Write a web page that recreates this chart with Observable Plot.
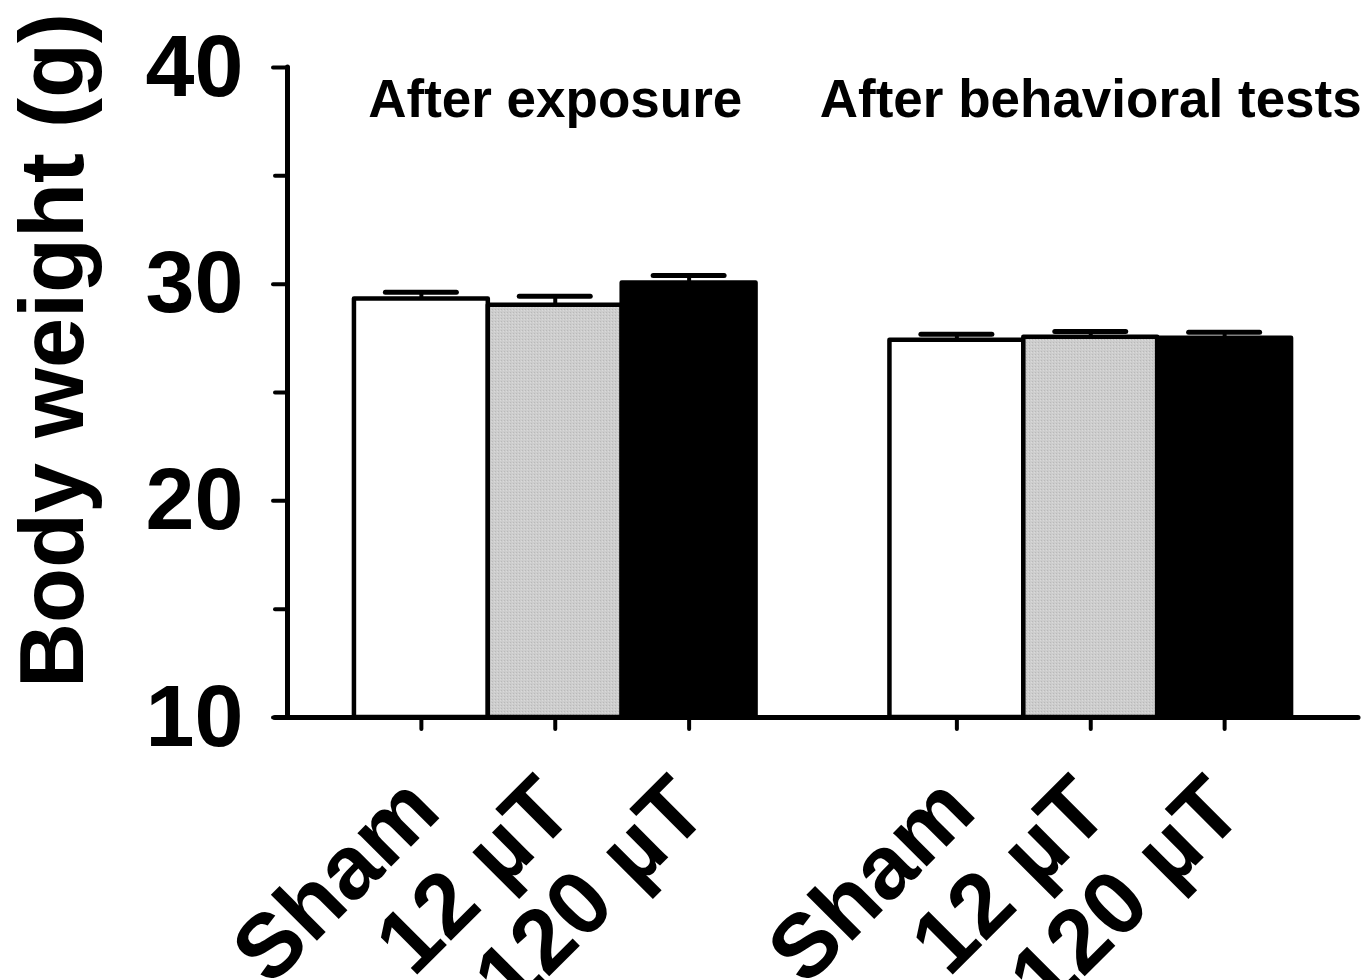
<!DOCTYPE html>
<html>
<head>
<meta charset="utf-8">
<script src="https://cdn.jsdelivr.net/npm/d3@7"></script>
<script src="https://cdn.jsdelivr.net/npm/@observablehq/plot@0.6"></script>
<style>
  html, body { margin: 0; padding: 0; background: #fff; }
  #chart svg { display: block; }
</style>
</head>
<body>
<div id="chart"></div>
<script>
// ---- data ----
const groups = ["After exposure", "After behavioral tests"];
const treatments = ["Sham", "12 µT", "120 µT"];
const meanExposure = [29.31, 29.03, 30.05];
const semExposure = [0.32, 0.41, 0.35];
const meanBehavior = [27.41, 27.55, 27.50];
const semBehavior = [0.28, 0.27, 0.28];
const yTicksMajor = [10, 20, 30, 40];
const yTicksMinor = [15, 25, 35];
const yLabel = "Body weight (g)";

// ---- derived table ----
const means = [meanExposure, meanBehavior];
const sems = [semExposure, semBehavior];
const rows = [];
groups.forEach((g, gi) => {
  treatments.forEach((t, ti) => {
    rows.push({group: g, treatment: t, pos: gi * 4 + ti + 1, mean: means[gi][ti], sem: sems[gi][ti]});
  });
});
const groupCenters = groups.map((g, gi) => ({group: g, pos: gi * 4 + 2}));
const xDomain = [0, 8];

const font = "'Liberation Sans', Arial, Helvetica, sans-serif";

const chart = Plot.plot({
  width: 1362,
  height: 980,
  marginLeft: 287,
  marginRight: 4,
  marginTop: 67,
  marginBottom: 263,
  style: {fontFamily: font, fontWeight: "bold", background: "white", color: "black"},
  x: {domain: xDomain, axis: null},
  y: {domain: [10, 40], axis: null},
  color: {domain: treatments, range: ["white", "url(#stipple)", "black"]},
  marks: [
    // error bar stems
    Plot.ruleX(rows, {x: "pos", y1: "mean", y2: d => d.mean + d.sem, stroke: "black", strokeWidth: 4}),
    // bars
    Plot.rect(rows, {
      x1: d => d.pos - 0.5, x2: d => d.pos + 0.5, y1: 10, y2: "mean",
      fill: "treatment", stroke: "black", strokeWidth: 4.5, strokeLinejoin: "round"
    }),
    // error bar caps
    Plot.ruleY(rows, {
      y: d => d.mean + d.sem, x1: d => d.pos - 0.265, x2: d => d.pos + 0.265,
      stroke: "black", strokeWidth: 5, strokeLinecap: "round"
    }),
    // y axis line
    Plot.ruleX([xDomain[0]], {y1: 10, y2: 40, stroke: "black", strokeWidth: 5, strokeLinecap: "round"}),
    // x axis line
    Plot.ruleY([10], {stroke: "black", strokeWidth: 5, strokeLinecap: "round", insetLeft: -12}),
    // y ticks and labels
    Plot.axisY(yTicksMajor, {
      tickSize: 14, tickPadding: 30, strokeWidth: 4, strokeLinecap: "round",
      fontSize: 88, fontWeight: "bold", label: null, stroke: "black", fill: "black"
    }),
    Plot.axisY(yTicksMinor, {
      tickSize: 12, strokeWidth: 4, strokeLinecap: "round", tickFormat: () => "", label: null, stroke: "black"
    }),
    // x ticks
    Plot.axisX(rows.map(d => d.pos), {
      tickSize: 12, strokeWidth: 4, strokeLinecap: "round", tickFormat: () => "", label: null, stroke: "black"
    }),
    // x tick labels (rotated)
    Plot.text(rows, {
      x: "pos", text: "treatment", frameAnchor: "bottom", rotate: -45,
      textAnchor: "end", lineAnchor: "bottom", dx: 22, dy: 97,
      fontSize: 90, fontWeight: "bold", fill: "black"
    }),
    // group annotations
    Plot.text(groupCenters, {
      x: "pos", text: "group", frameAnchor: "top", lineAnchor: "bottom", dy: 49,
      fontSize: 53, fontWeight: "bold", fill: "black"
    }),
    // y axis title
    Plot.text([yLabel], {
      frameAnchor: "left", rotate: -90, textAnchor: "middle", lineAnchor: "bottom",
      dx: -205, dy: -42, fontSize: 90, fontWeight: "bold", fill: "black"
    })
  ]
});

// stipple pattern for the grey bars
const ns = "http://www.w3.org/2000/svg";
const defs = document.createElementNS(ns, "defs");
defs.innerHTML = `<pattern id="stipple" width="3" height="3" patternUnits="userSpaceOnUse">
  <rect width="3" height="3" fill="#cdcdcd"></rect>
  <rect x="0" y="0" width="1" height="1" fill="#b9b9b9"></rect>
  <rect x="2" y="1" width="1" height="1" fill="#dadada"></rect>
</pattern>`;
chart.insertBefore(defs, chart.firstChild);

document.getElementById("chart").appendChild(chart);
</script>
</body>
</html>
